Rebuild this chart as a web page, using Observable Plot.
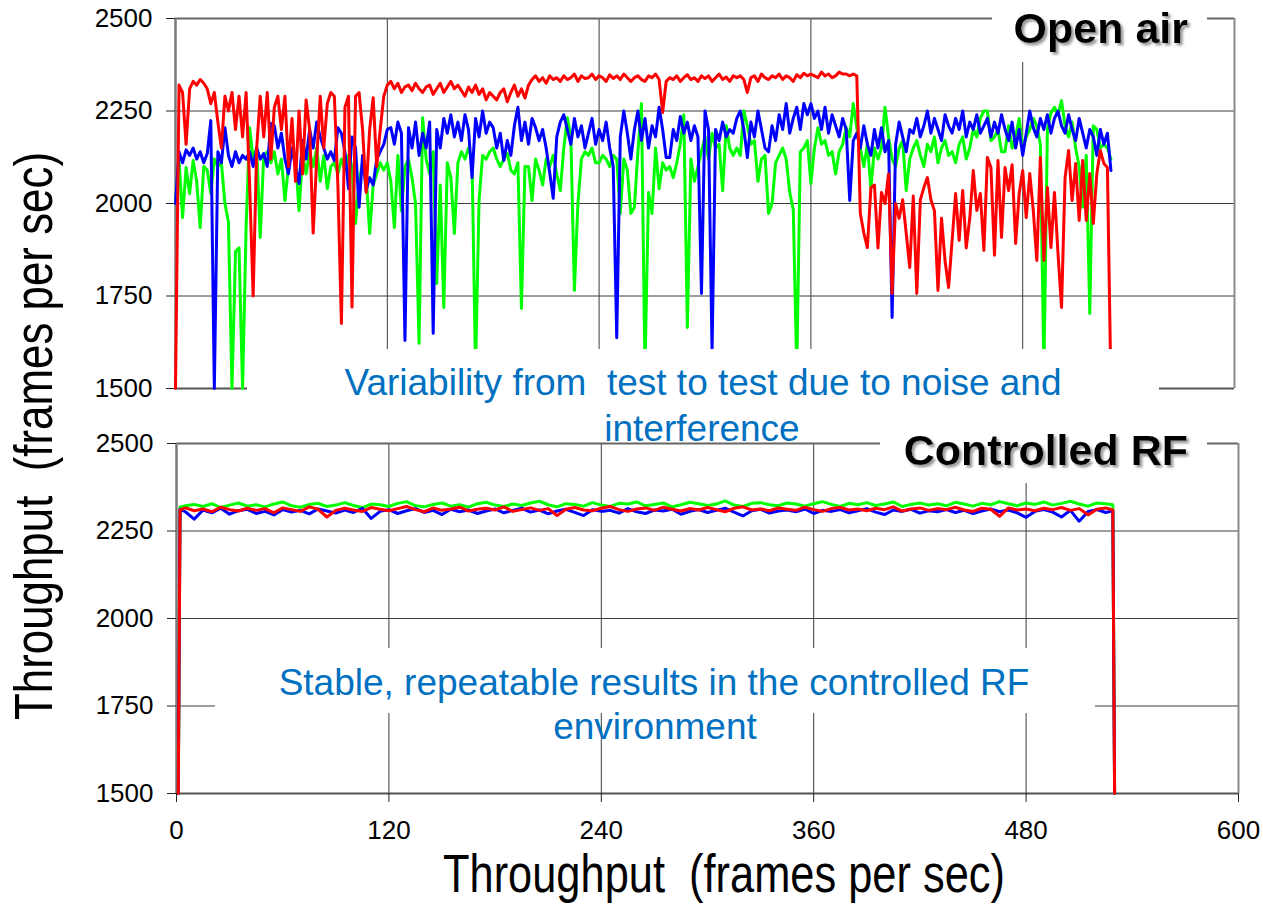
<!DOCTYPE html>
<html><head><meta charset="utf-8">
<script src="https://cdn.jsdelivr.net/npm/d3@7"></script>
<script src="https://cdn.jsdelivr.net/npm/@observablehq/plot@0.6"></script>
<style>
html,body{margin:0;padding:0;background:#fff;}
#wrap{position:relative;width:1263px;height:904px;overflow:hidden;background:#fff;}
#top,#bottom{position:absolute;left:0;}
#top{top:0;} #bottom{top:420px;}
#overlay{position:absolute;left:0;top:0;}
</style></head><body>
<div id="wrap"><div id="top"></div><div id="bottom"></div>
<svg id="overlay" width="1263" height="904" font-family="'Liberation Sans', Arial, Helvetica, sans-serif">
<defs><filter id="sh" x="-10%" y="-30%" width="130%" height="170%"><feDropShadow dx="2.5" dy="2.5" stdDeviation="0.8" flood-color="#9a9a9a" flood-opacity="1"/></filter></defs>
<rect x="992" y="0" width="215" height="62" fill="#fff"/>
<rect x="880" y="425" width="327" height="58" fill="#fff"/>
<rect x="247" y="349" width="912" height="52" fill="#fff"/>
<rect x="215" y="648" width="880" height="65" fill="#fff"/>
<text x="1188" y="43" text-anchor="end" font-weight="bold" font-size="43" fill="#000" filter="url(#sh)">Open air</text>
<text x="1188" y="465" text-anchor="end" font-weight="bold" font-size="43" fill="#000" filter="url(#sh)">Controlled RF</text>
<text x="703" y="395" text-anchor="middle" fill="#0070C0" font-size="37" style="white-space:pre">Variability from  test to test due to noise and</text>
<text x="702" y="441" text-anchor="middle" fill="#0070C0" font-size="37">interference</text>
<text x="654" y="695" text-anchor="middle" fill="#0070C0" font-size="37">Stable, repeatable results in the controlled RF</text>
<text x="655" y="739" text-anchor="middle" fill="#0070C0" font-size="37">environment</text>
<text x="724" y="892" text-anchor="middle" font-size="53" fill="#000" font-family="'Liberation Sans Narrow', 'Arial Narrow', 'Liberation Sans', Arial, sans-serif" textLength="562" lengthAdjust="spacingAndGlyphs" style="white-space:pre">Throughput  (frames per sec)</text>
<text transform="translate(52,436) rotate(-90)" text-anchor="middle" font-size="53" fill="#000" font-family="'Liberation Sans Narrow', 'Arial Narrow', 'Liberation Sans', Arial, sans-serif" textLength="568" lengthAdjust="spacingAndGlyphs" style="white-space:pre">Throughput  (frames per sec)</text>
</svg></div>
<script>
// ---- axis values ----
const yTicks = [1500, 1750, 2000, 2250, 2500];
const xTicks = [0, 120, 240, 360, 480, 600];
const xGrid = [120, 240, 360, 480];

// ---- Open air panel: time (s) ----
const tOpen = [0,2,4,6,8,10,12,14,16,18,20,22,24,26,28,30,32,34,36,38,
40,42,44,46,48,50,52,54,56,58,60,62,64,66,68,70,72,74,76,78,
80,82,84,86,88,90,92,94,96,98,100,102,104,106,108,110,112,114,116,118,
120,122,124,126,128,130,132,134,136,138,140,142,144,146,148,150,152,154,156,158,
160,162,164,166,168,170,172,174,176,178,180,182,184,186,188,190,192,194,196,198,
200,202,204,206,208,210,212,214,216,218,220,222,224,226,228,230,232,234,236,238,
240,242,244,246,248,250,252,254,256,258,260,262,264,266,268,270,272,274,276,278,
280,282,284,286,288,290,292,294,296,298,300,302,304,306,308,310,312,314,316,318,
320,322,324,326,328,330,332,334,336,338,340,342,344,346,348,350,352,354,356,358,
360,362,364,366,368,370,372,374,376,378,380,382,384,386,388,390,392,394,396,398,
400,402,404,406,408,410,412,414,416,418,420,422,424,426,428,430,432,434,436,438,
440,442,444,446,448,450,452,454,456,458,460,462,464,466,468,470,472,474,476,478,
480,482,484,486,488,490,492,494,496,498,500,502,504,506,508,510,512,514,516,518,
520,522,524,526,528,530];

const redOpen = [1500,2320,2300,2160,2310,2330,2320,2335,2325,2310,
2270,2300,2220,2150,2290,2250,2300,2200,2290,2180,
2300,2050,1750,2150,2290,2180,2300,2120,2260,2290,
2200,2290,2100,2230,2060,2250,2080,2280,2200,1920,
2120,2290,2150,2270,2300,2290,2050,1676,2260,2290,
1720,2290,2300,2200,2030,2200,2286,2100,2200,2290,
2320,2330,2310,2325,2300,2315,2320,2305,2325,2310,
2300,2315,2320,2295,2310,2325,2300,2315,2330,2310,
2320,2305,2290,2315,2300,2320,2295,2310,2280,2300,
2290,2280,2300,2310,2275,2300,2320,2290,2310,2285,
2320,2335,2345,2330,2340,2325,2345,2335,2340,2330,
2345,2335,2340,2350,2330,2345,2338,2340,2350,2335,
2345,2340,2330,2348,2338,2345,2335,2350,2340,2330,
2340,2345,2335,2330,2345,2340,2350,2335,2246,2330,
2340,2335,2345,2330,2340,2348,2335,2340,2330,2345,
2338,2345,2330,2340,2350,2335,2342,2330,2345,2340,
2345,2335,2300,2340,2345,2330,2350,2340,2335,2345,
2340,2350,2335,2345,2340,2330,2348,2340,2352,2345,
2350,2345,2340,2355,2345,2350,2340,2345,2355,2350,
2350,2345,2350,2345,1973,1920,1881,2043,2050,1880,
2030,2000,2080,1757,2000,1960,2010,1920,1827,2020,
1757,2010,2043,2070,2010,1980,1765,1960,1846,1773,
1900,2027,1900,2035,1880,1960,2089,1981,2027,1873,
2124,2097,1860,2116,1908,2097,2035,2105,1892,2027,
2089,1962,2081,1981,1846,2124,1846,2043,1881,2030,
1865,1719,2070,2143,2008,2108,1954,2116,1954,2081,
1946,2081,2143,2108,2097,1500];

const blueOpen = [2000,2140,2110,2145,2130,2150,2120,2140,2110,2135,
2224,1500,2140,2110,2205,2130,2100,2140,2110,2130,
2120,2140,2100,2150,2120,2135,2100,2216,2210,2150,
2190,2120,2080,2150,2100,2054,2170,2120,2200,2150,
2220,2180,2150,2120,2140,2116,2205,2190,2140,2040,
2180,2150,1990,2130,2035,2070,2050,2120,2140,2160,
2200,2205,2160,2220,2190,1630,2205,2150,2220,2130,
2190,2150,2220,1649,2200,2150,2230,2190,2240,2180,
2220,2170,2240,2200,2070,2230,2180,2250,2190,2220,
2205,2150,2190,2116,2170,2130,2210,2260,2170,2220,
2160,2230,2205,2170,2200,2150,2084,2014,2180,2220,
2240,2200,2160,2230,2180,2210,2150,2190,2230,2160,
2200,2170,2220,2150,2100,1637,2180,2250,2190,2120,
2200,2250,2170,2230,2150,2210,2180,2260,2200,2124,
2124,2200,2170,2235,2190,2220,2170,2210,2180,1757,
2250,2200,1600,2200,2170,2220,2180,2200,2190,2230,
2250,2200,2124,2220,2180,2250,2200,2150,2140,2210,
2170,2240,2200,2270,2190,2230,2260,2200,2270,2240,
2270,2230,2250,2200,2260,2190,2240,2210,2180,2230,
2200,2008,2170,2190,2150,2210,2160,2130,2200,2150,
2205,2140,2170,1692,2160,2220,2180,2140,2200,2190,
2230,2180,2210,2250,2190,2230,2200,2170,2240,2210,
2190,2230,2200,2250,2180,2220,2200,2240,2190,2210,
2230,2180,2220,2190,2240,2200,2170,2220,2150,2200,
2130,2190,2250,2205,2180,2230,2200,2240,2190,2230,
2250,2210,2190,2240,2200,2170,2230,2190,2150,2200,
2180,2130,2200,2160,2190,2089];

const greenOpen = [2000,2116,1962,2097,2027,2116,2060,1935,2100,2090,
2027,2120,2100,2110,2000,1950,1500,1870,1880,1500,
1935,2205,2120,2150,1908,2130,2140,2110,2140,2080,
2120,2008,2100,2150,2120,1981,2130,2080,2140,2100,
2150,2060,2130,2040,2100,2110,2080,2120,2090,2130,
2100,1946,2060,2110,2080,1919,2050,2080,2110,2090,
2110,2060,1935,2130,1980,2100,2120,2070,2000,1622,
2232,2120,2080,2140,1784,2050,1719,2110,2070,1919,
2110,2140,2120,2150,2120,1550,2010,2130,2120,2140,
2150,2120,2100,2120,2135,2090,2080,2110,1716,2100,
2100,2008,2120,2090,2050,2120,2100,2130,2080,2035,
2150,2232,2180,1765,2000,2120,2140,2130,2150,2110,
2110,2130,2120,2100,2130,2120,1973,2120,2090,1973,
1990,2140,2270,1550,2030,1973,2150,2040,2110,2090,
2100,2070,2110,2160,2240,1665,2120,2060,2100,2140,
2180,2120,2190,2150,2160,2035,2210,2150,2130,2150,
2130,2250,2210,2160,2170,2060,2120,2130,1973,2000,
2110,2130,2150,2120,2030,1983,1550,2140,2150,2170,
2054,2150,2205,2160,2170,2130,2140,2080,2140,2160,
2205,2180,2270,2205,2150,2100,2160,2040,2150,2120,
2150,2260,2180,2120,2100,2150,2170,2035,2120,2150,
2170,2130,2100,2160,2140,2180,2110,2150,2170,2130,
2140,2110,2160,2180,2120,2150,2200,2180,2230,2250,
2250,2170,2180,2200,2140,2140,2210,2150,2180,2230,
2150,2180,2200,2230,2210,2160,1550,2200,2245,2260,
2240,2278,2210,2180,2220,2150,2100,1990,2130,1703,
2210,2200,2150,2160,2150,2120];

// ---- Controlled RF panel ----
const tCtrl = [1,2,5,10,15,20,25,30,35,40,45,50,55,60,65,70,75,80,85,90,95,100,
105,110,115,120,125,130,135,140,145,150,155,160,165,170,175,180,185,190,195,200,
205,210,215,220,225,230,235,240,245,250,255,260,265,270,275,280,285,290,295,300,
305,310,315,320,325,330,335,340,345,350,355,360,365,370,375,380,385,390,395,400,
405,410,415,420,425,430,435,440,445,450,455,460,465,470,475,480,485,490,495,500,
505,510,515,520,525,529,530];

const greenCtrl = [1500,2318,2322,2326,2320,2328,2317,2324,2330,2321,
2325,2319,2327,2333,2322,2318,2326,2329,2320,2324,
2331,2323,2317,2327,2325,2320,2329,2334,2322,2319,
2326,2330,2321,2325,2318,2328,2332,2324,2320,2327,
2323,2330,2335,2325,2319,2328,2326,2321,2331,2324,
2320,2329,2327,2333,2322,2326,2330,2319,2325,2332,
2328,2323,2327,2336,2324,2320,2329,2331,2325,2322,
2330,2327,2321,2328,2334,2326,2320,2329,2325,2331,
2323,2327,2333,2320,2326,2330,2324,2328,2322,2332,
2327,2321,2329,2325,2334,2328,2322,2330,2326,2333,
2324,2329,2335,2327,2321,2330,2328,2325,1500];

const blueCtrl = [1500,2312,2305,2284,2310,2302,2315,2298,2308,2312,
2300,2306,2296,2311,2304,2309,2299,2313,2307,2301,
2310,2303,2315,2286,2306,2311,2300,2308,2314,2303,
2309,2297,2312,2305,2310,2300,2307,2313,2302,2309,
2315,2304,2310,2299,2307,2312,2303,2294,2311,2306,
2309,2301,2314,2305,2300,2310,2307,2312,2298,2306,
2311,2303,2309,2315,2304,2293,2308,2312,2301,2307,
2310,2305,2313,2300,2309,2306,2311,2302,2308,2314,
2304,2297,2310,2306,2312,2301,2308,2305,2311,2303,
2309,2300,2307,2313,2305,2310,2302,2289,2306,2311,
2304,2290,2309,2278,2306,2311,2303,2308,1500];

const redCtrl = [1500,2310,2316,2308,2313,2305,2318,2311,2307,2315,
2309,2314,2302,2316,2311,2306,2319,2312,2290,2309,
2315,2310,2306,2317,2312,2308,2314,2320,2311,2305,
2316,2309,2313,2318,2307,2312,2315,2310,2319,2306,
2311,2316,2309,2314,2294,2312,2317,2310,2308,2315,
2320,2311,2306,2313,2316,2309,2318,2312,2307,2314,
2310,2317,2311,2305,2315,2319,2310,2313,2308,2316,
2312,2309,2318,2311,2306,2314,2317,2310,2313,2308,
2315,2311,2319,2307,2313,2316,2309,2314,2311,2318,
2310,2306,2315,2312,2292,2316,2310,2313,2308,2315,
2311,2317,2309,2314,2296,2312,2316,2310,1500];

const seriesColors = {green: "#00ff00", blue: "#0000ff", red: "#ff0000"};

const fontFamily = "'Liberation Sans', Arial, Helvetica, sans-serif";
const gridStyle = {stroke: "#3c3c3c", strokeOpacity: 1, strokeWidth: 1};
const frameStyle = {stroke: "#7a7a7a", strokeWidth: 2.5};
const plain = d => String(d);

function panel(opts) {
  const marks = [
    Plot.gridY(yTicks, gridStyle),
    Plot.gridX(xGrid, gridStyle),
    Plot.ruleY([1500], {stroke: "#555", strokeWidth: 2}),
    Plot.ruleY([2500], {stroke: "#666", strokeWidth: 2}),
    Plot.ruleX([0], frameStyle),
    Plot.ruleX([600], {stroke: "#8a8a8a", strokeWidth: 2}),
    Plot.axisY(yTicks, {tickSize: 9, tickPadding: 14, label: null, stroke: "#222", fontSize: 26, tickFormat: plain}),
    Plot.lineY(opts.green, {x: opts.t, stroke: seriesColors.green, strokeWidth: 3}),
    Plot.lineY(opts.blue, {x: opts.t, stroke: seriesColors.blue, strokeWidth: 3}),
    Plot.lineY(opts.red, {x: opts.t, stroke: seriesColors.red, strokeWidth: 3})
  ];
  if (opts.showX) marks.push(Plot.axisX(xTicks, {tickSize: 9, tickPadding: 18, label: null, stroke: "#222", fontSize: 26, tickFormat: plain}));
  return Plot.plot({
    width: 1263, height: opts.height,
    marginTop: opts.mt, marginBottom: opts.mb, marginLeft: opts.ml, marginRight: opts.mr,
    x: {domain: [0, 600], axis: opts.showX ? undefined : null},
    y: {domain: [1500, 2500]},
    style: {fontFamily, fontSize: "26px", color: "#000", background: "transparent", overflow: "visible"},
    marks
  });
}

document.getElementById("top").append(panel({
  t: tOpen, green: greenOpen, blue: blueOpen, red: redOpen,
  height: 420, mt: 18, mb: 32, ml: 175, mr: 29, showX: false
}));
document.getElementById("bottom").append(panel({
  t: tCtrl, green: greenCtrl, blue: blueCtrl, red: redCtrl,
  height: 484, mt: 23, mb: 111, ml: 176, mr: 25, showX: true
}));
</script>
</body></html>
